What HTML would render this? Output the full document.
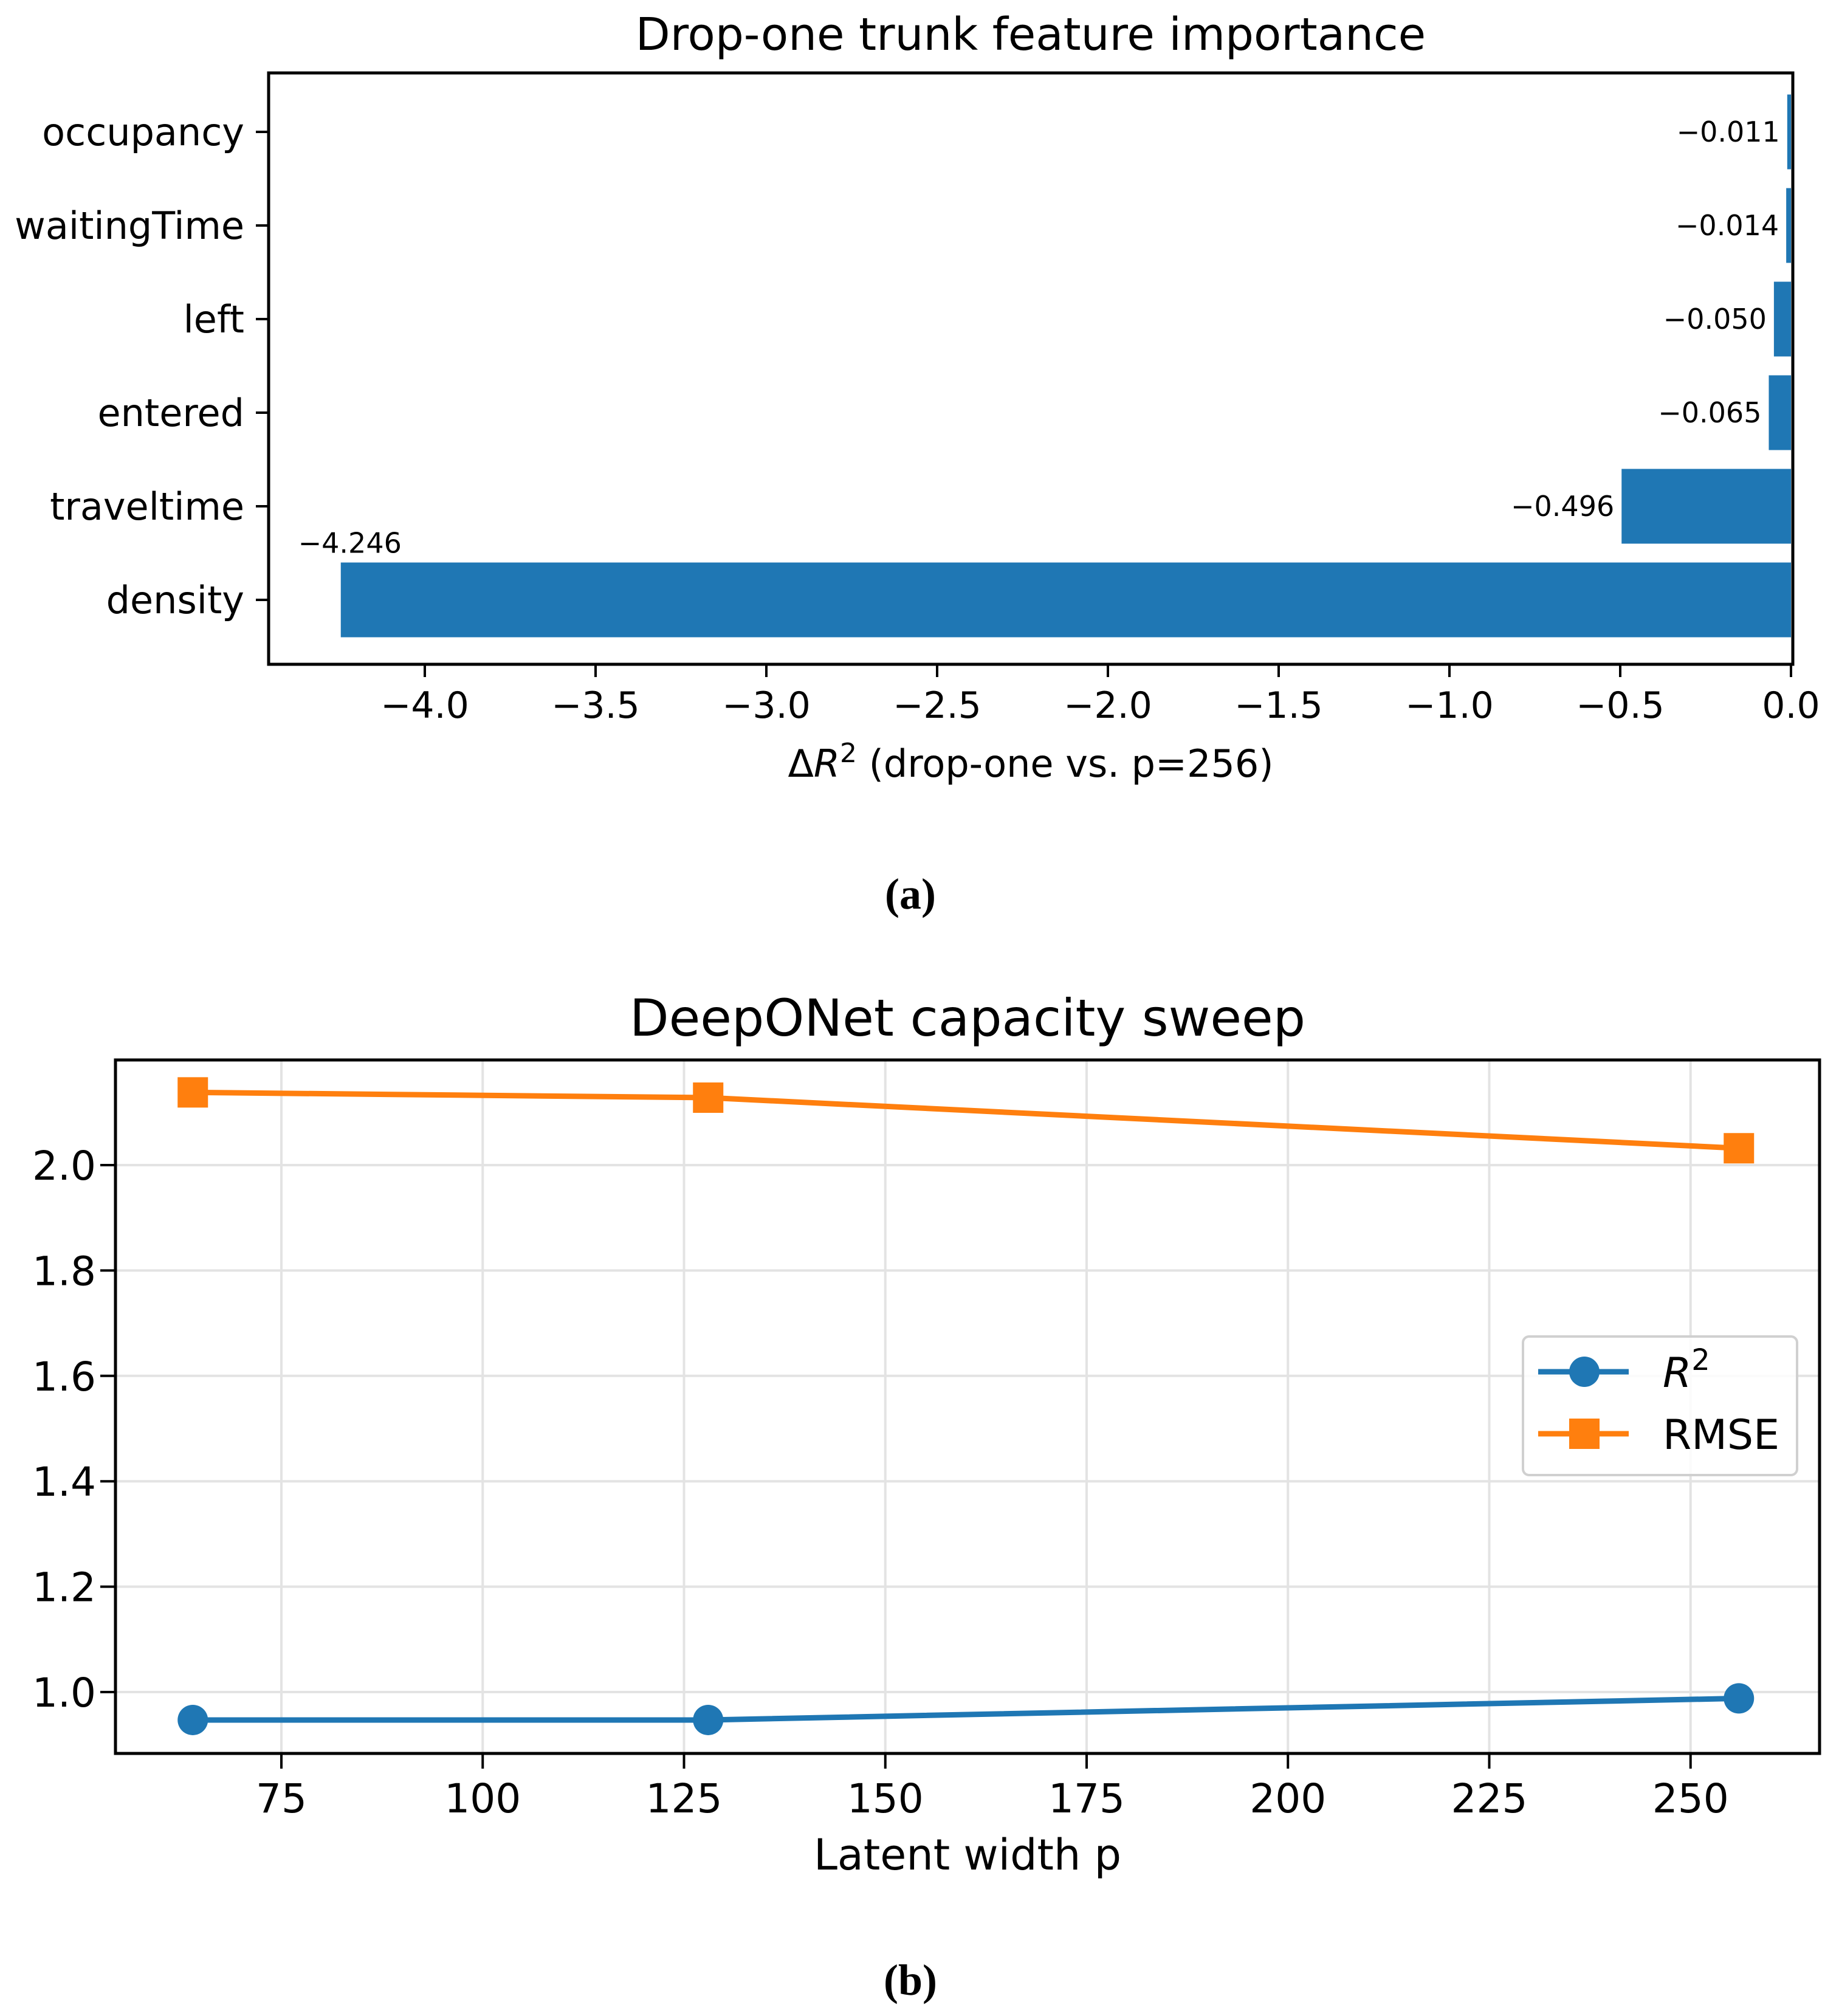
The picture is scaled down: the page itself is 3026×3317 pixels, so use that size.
<!DOCTYPE html>
<html><head><meta charset="utf-8"><style>
html,body{margin:0;padding:0;background:#fff}
svg{display:block}
text{font-family:"DejaVu Sans","Liberation Sans",sans-serif;fill:#000}
</style></head><body>
<svg id="fig" width="3026" height="3317" viewBox="0 0 3026 3317" xmlns="http://www.w3.org/2000/svg">
<rect width="3026" height="3317" fill="#fff"/>
<g id="top"></g>
<g id="bot"></g>
<text x="1498" y="1495" text-anchor="middle" style="font-family:'Liberation Serif',serif;font-size:72px;font-weight:bold">(a)</text>
<text x="1498" y="3282" text-anchor="middle" style="font-family:'Liberation Serif',serif;font-size:72px;font-weight:bold">(b)</text>
</svg>
<script>
const features = ["density","traveltime","entered","left","waitingTime","occupancy"];
const deltas = [-4.246,-0.496,-0.065,-0.050,-0.014,-0.011];
const deltaLabels = ["\u22124.246","\u22120.496","\u22120.065","\u22120.050","\u22120.014","\u22120.011"];
const xTicksTop = [-4.0,-3.5,-3.0,-2.5,-2.0,-1.5,-1.0,-0.5,0.0];
const xTickLabelsTop = ["\u22124.0","\u22123.5","\u22123.0","\u22122.5","\u22122.0","\u22121.5","\u22121.0","\u22120.5","0.0"];

const widths = [64,128,256];
const r2Values = [0.947,0.947,0.988];
const rmseValues = [2.138,2.128,2.032];
const xTicksBot = [75,100,125,150,175,200,225,250];
const yTicksBot = [1.0,1.2,1.4,1.6,1.8,2.0];
const yTickLabelsBot = ["1.0","1.2","1.4","1.6","1.8","2.0"];

const NS="http://www.w3.org/2000/svg";
function mk(parent,tag,attrs,txt){const e=document.createElementNS(NS,tag);for(const k in attrs)e.setAttribute(k,attrs[k]);if(txt!==undefined)e.textContent=txt;parent.appendChild(e);return e;}

// ---------- top chart ----------
(function(){
  const g=document.getElementById('top');
  const L=442,R=2950,T=120,B=1093;
  const xs=v=>2947+v*562;
  const ys=i=>987-i*154;
  const bh=123;
  let t=mk(g,'text',{x:1696,y:82,'text-anchor':'middle','font-size':74});t.textContent='Drop-one trunk feature importance';
  
  
  features.forEach((f,i)=>{
    const x0=xs(deltas[i]),x1=xs(0);
    const r=mk(g,'rect',{x:x0,y:ys(i)-bh/2,width:Math.max(x1-x0,1),height:bh,fill:'#1f77b4'});
    
    
    let lab;
    if(i===0){
      lab=mk(g,'text',{x:xs(deltas[i])+15,y:ys(i)-bh/2-16,'text-anchor':'middle','font-size':46},deltaLabels[i]);
    } else {
      lab=mk(g,'text',{x:xs(deltas[i])-12,y:ys(i)+16,'text-anchor':'end','font-size':46},deltaLabels[i]);
    }
    
    
    const tk=mk(g,'line',{x1:L-21,x2:L,y1:ys(i),y2:ys(i),stroke:'#000','stroke-width':4});
    
    
    const tl=mk(g,'text',{x:L-40,y:ys(i)+22,'text-anchor':'end','font-size':62},f);
    
    
  });
  xTicksTop.forEach((v,i)=>{
    const tk=mk(g,'line',{x1:xs(v),x2:xs(v),y1:B,y2:B+21,stroke:'#000','stroke-width':4});
    
    
    const tl=mk(g,'text',{x:xs(v),y:1181,'text-anchor':'middle','font-size':60},xTickLabelsTop[i]);
    
    
  });
  const fr=mk(g,'rect',{x:L,y:T,width:R-L,height:B-T,fill:'none',stroke:'#000','stroke-width':5});
  
  
  const xl=mk(g,'text',{x:1696,y:1278,'text-anchor':'middle','font-size':62});
  xl.innerHTML='\u0394<tspan font-style="italic">R</tspan><tspan dy="-24" font-size="44">2</tspan><tspan dy="24"> (drop-one vs. p=256)</tspan>';
  
  
})();

// ---------- bottom chart ----------
(function(){
  const g=document.getElementById('bot');
  const L=190,R=2994,T=1744,B=2885;
  const xs=p=>463+(p-75)*13.25;
  const ys=v=>2784-(v-1.0)*867;
  let t=mk(g,'text',{x:1592,y:1704,'text-anchor':'middle','font-size':84},'DeepONet capacity sweep');
  
  
  xTicksBot.forEach(v=>{
    const gl=mk(g,'line',{x1:xs(v),x2:xs(v),y1:T,y2:B,stroke:'#e3e3e3','stroke-width':4});
    
    
    const tk=mk(g,'line',{x1:xs(v),x2:xs(v),y1:B,y2:B+25,stroke:'#000','stroke-width':4});
    
    
    const tl=mk(g,'text',{x:xs(v),y:2982,'text-anchor':'middle','font-size':66},String(v));
    
    
  });
  yTicksBot.forEach((v,i)=>{
    const gl=mk(g,'line',{x1:L,x2:R,y1:ys(v),y2:ys(v),stroke:'#e3e3e3','stroke-width':4});
    
    
    const tk=mk(g,'line',{x1:L-25,x2:L,y1:ys(v),y2:ys(v),stroke:'#000','stroke-width':4});
    
    
    const tl=mk(g,'text',{x:L-32,y:ys(v)+24,'text-anchor':'end','font-size':66},yTickLabelsBot[i]);
    
    
  });
  const r2pts=widths.map((p,i)=>xs(p)+','+ys(r2Values[i])).join(' ');
  const rmpts=widths.map((p,i)=>xs(p)+','+ys(rmseValues[i])).join(' ');
  const l1=mk(g,'polyline',{points:r2pts,fill:'none',stroke:'#1f77b4','stroke-width':9});
  
  
  const l2=mk(g,'polyline',{points:rmpts,fill:'none',stroke:'#ff7f0e','stroke-width':9});
  
  
  widths.forEach((p,i)=>{
    const c=mk(g,'circle',{cx:xs(p),cy:ys(r2Values[i]),r:25,fill:'#1f77b4'});
    
    
    const s=mk(g,'rect',{x:xs(p)-25,y:ys(rmseValues[i])-25,width:50,height:50,fill:'#ff7f0e'});
    
    
  });
  const fr=mk(g,'rect',{x:L,y:T,width:R-L,height:B-T,fill:'none',stroke:'#000','stroke-width':5});
  
  
  const xl=mk(g,'text',{x:1592,y:3076,'text-anchor':'middle','font-size':70},'Latent width p');
  
  
  // legend
  const lg=mk(g,'g',{});
  
  
  mk(lg,'rect',{x:2506,y:2199,width:451,height:228,rx:10,fill:'#fff','fill-opacity':0.85,stroke:'#d0d0d0','stroke-width':4});
  const e1=mk(lg,'g',{});
  
  
  mk(e1,'line',{x1:2531,x2:2680,y1:2257,y2:2257,stroke:'#1f77b4','stroke-width':9});
  mk(e1,'circle',{cx:2607,cy:2257,r:25,fill:'#1f77b4'});
  const t1=mk(e1,'text',{x:2736,y:2282,'font-size':68});
  t1.innerHTML='<tspan font-style="italic">R</tspan><tspan dy="-28" font-size="48">2</tspan>';
  const e2=mk(lg,'g',{});
  
  
  mk(e2,'line',{x1:2531,x2:2680,y1:2359,y2:2359,stroke:'#ff7f0e','stroke-width':9});
  mk(e2,'rect',{x:2582,y:2334,width:50,height:50,fill:'#ff7f0e'});
  mk(e2,'text',{x:2736,y:2384,'font-size':68},'RMSE');
})();
</script>
</body></html>
